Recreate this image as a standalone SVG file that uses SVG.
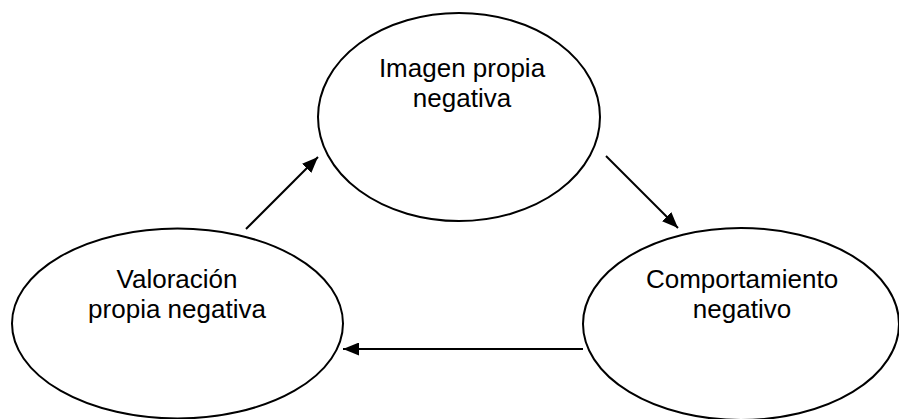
<svg xmlns="http://www.w3.org/2000/svg" width="899" height="419" viewBox="0 0 899 419">
  <style>
    .node ellipse { fill: #ffffff; stroke: #000000; stroke-width: 2; }
    .node text { font-family: "Liberation Sans", Arial, sans-serif; font-size: 26px; fill: #000000; text-anchor: middle; }
    .edge { stroke: #000000; stroke-width: 2; fill: none; marker-end: url(#arrow); }
  </style>
  <defs>
    <marker id="arrow" markerUnits="userSpaceOnUse" markerWidth="17" markerHeight="13" refX="16" refY="6.5" orient="auto">
      <path d="M0,0 L16,6.5 L0,13 z" fill="#000000"/>
    </marker>
  </defs>
  <rect width="899" height="419" fill="#ffffff"/>

  <g id="node-imagen" class="node">
    <ellipse cx="459" cy="117" rx="141" ry="104"/>
    <text x="462" y="77">Imagen propia</text>
    <text x="462" y="107">negativa</text>
  </g>

  <g id="node-comportamiento" class="node">
    <ellipse cx="741" cy="324" rx="158" ry="96"/>
    <text x="742" y="288">Comportamiento</text>
    <text x="742" y="318">negativo</text>
  </g>

  <g id="node-valoracion" class="node">
    <ellipse cx="177.5" cy="323.5" rx="165.5" ry="95"/>
    <text x="177" y="288">Valoración</text>
    <text x="177" y="318">propia negativa</text>
  </g>

  <g id="connectors">
    <line class="edge" x1="246" y1="229" x2="318" y2="157"/>
    <line class="edge" x1="606" y1="156" x2="678" y2="228"/>
    <line class="edge" x1="583" y1="349" x2="343" y2="349"/>
  </g>
</svg>
